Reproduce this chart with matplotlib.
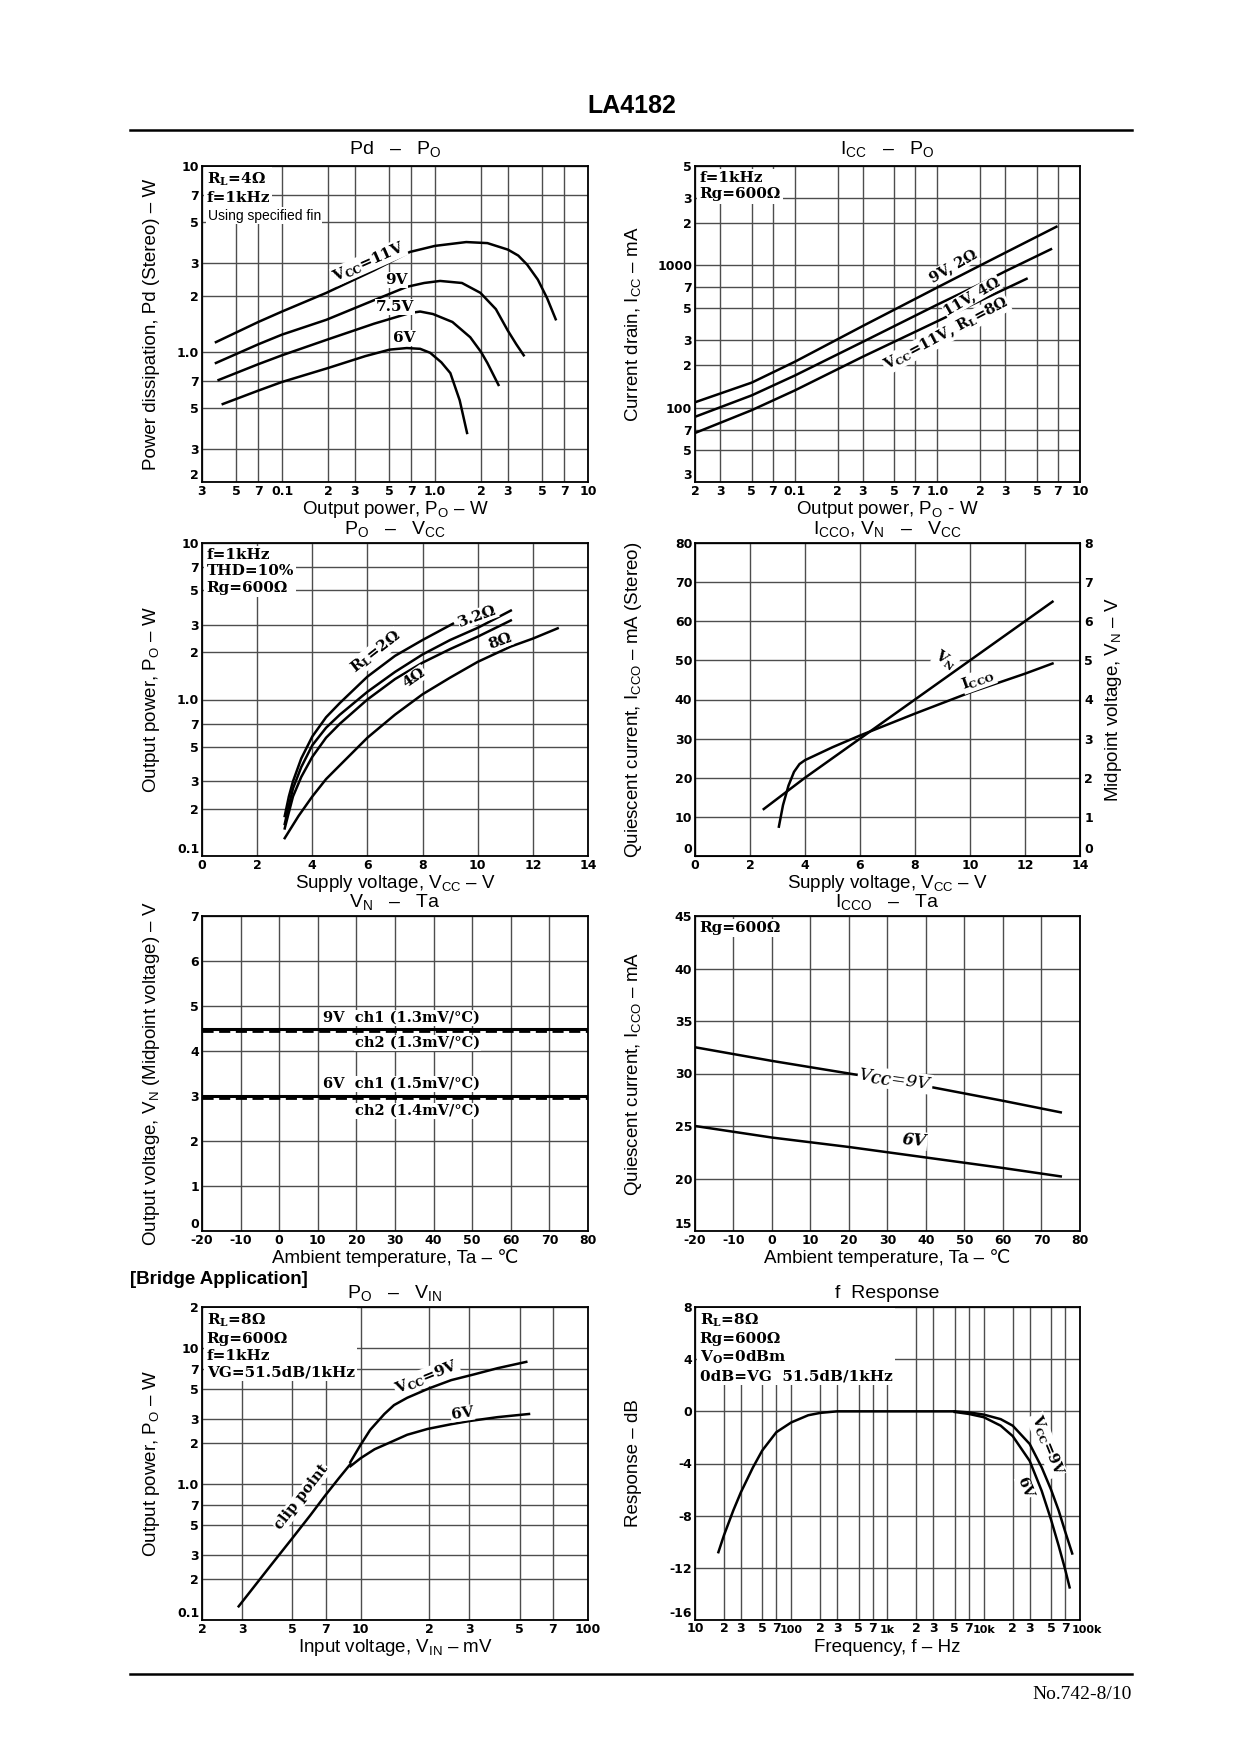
import matplotlib
matplotlib.use("Agg")
import matplotlib.pyplot as plt
from matplotlib.lines import Line2D
from matplotlib.ticker import NullLocator
from matplotlib.transforms import blended_transform_factory, ScaledTranslation

plt.rcParams['mathtext.fontset'] = 'custom'
plt.rcParams['mathtext.rm'] = 'DejaVu Serif:bold'
plt.rcParams['mathtext.bf'] = 'DejaVu Serif:bold'
plt.rcParams['mathtext.it'] = 'DejaVu Serif:italic:bold'
plt.rcParams['mathtext.sf'] = 'Liberation Sans'

# ---------------- data ----------------
# Pd - Po  (RL=4 ohm)
pd11_po = [0.037, 0.07, 0.1, 0.195, 0.4, 0.685, 1.0, 1.6, 2.2, 3.0, 3.5, 4.0, 4.7, 5.4, 6.15]
pd11_pd = [1.13, 1.45, 1.65, 2.08, 2.75, 3.45, 3.72, 3.9, 3.85, 3.55, 3.3, 2.95, 2.45, 1.95, 1.5]
pd9_po = [0.037, 0.07, 0.1, 0.195, 0.4, 0.654, 0.85, 1.08, 1.5, 1.98, 2.5, 2.98, 3.4, 3.8]
pd9_pd = [0.873, 1.1, 1.24, 1.49, 1.9, 2.24, 2.35, 2.41, 2.35, 2.08, 1.7, 1.31, 1.1, 0.96]
pd75_po = [0.0385, 0.07, 0.1, 0.2, 0.4, 0.685, 0.8, 0.97, 1.3, 1.7, 2.0, 2.2, 2.6]
pd75_pd = [0.707, 0.86, 0.96, 1.17, 1.42, 1.62, 1.65, 1.6, 1.45, 1.2, 1.0, 0.873, 0.665]
pd6_po = [0.041, 0.07, 0.1, 0.2, 0.35, 0.506, 0.654, 0.8, 0.93, 1.1, 1.26, 1.45, 1.62]
pd6_pd = [0.525, 0.62, 0.69, 0.82, 0.95, 1.03, 1.05, 1.04, 0.99, 0.88, 0.77, 0.55, 0.367]

# Icc - Po
icc_a_po = [0.0205, 0.05, 0.1, 0.3, 1.0, 2.0, 3.0, 6.83]
icc_a = [110, 150, 210, 375, 700, 1000, 1230, 1870]          # 9V, 2 ohm
icc_b_po = [0.0205, 0.05, 0.1, 0.3, 1.0, 2.0, 3.0, 6.26]
icc_b = [87, 122, 168, 290, 530, 740, 910, 1300]             # 11V, 4 ohm
icc_c_po = [0.0205, 0.05, 0.1, 0.3, 1.0, 2.0, 4.22]
icc_c = [67, 96, 132, 228, 405, 565, 805]                    # 11V, 8 ohm

# Po - Vcc
po2_vcc = [3.0, 3.15, 3.3, 3.6, 4.0, 4.5, 5.0, 6.0, 7.0, 8.0, 9.1]
po2 = [0.18, 0.24, 0.3, 0.42, 0.58, 0.77, 0.95, 1.4, 1.9, 2.4, 3.05]
po32_vcc = [3.0, 3.15, 3.3, 3.6, 4.0, 4.5, 5.0, 6.0, 7.0, 8.0, 9.0, 10.0, 11.2]
po32 = [0.16, 0.21, 0.27, 0.37, 0.51, 0.66, 0.8, 1.12, 1.5, 1.94, 2.4, 2.87, 3.7]
po4_vcc = [3.0, 3.15, 3.3, 3.6, 4.0, 4.5, 5.0, 6.0, 7.0, 8.0, 9.0, 10.0, 11.2]
po4 = [0.15, 0.19, 0.24, 0.32, 0.43, 0.57, 0.7, 1.0, 1.35, 1.72, 2.1, 2.52, 3.2]
po8_vcc = [3.0, 3.5, 4.0, 4.5, 5.0, 6.0, 7.0, 8.0, 9.0, 10.0, 11.2, 12.0, 12.9]
po8 = [0.13, 0.18, 0.24, 0.31, 0.38, 0.57, 0.8, 1.08, 1.38, 1.74, 2.18, 2.45, 2.85]

# Icco, VN - Vcc
vn_vcc = [2.5, 4, 6, 8, 10, 12, 13]
vn = [1.2, 2.0, 3.0, 4.0, 5.0, 6.0, 6.5]
icco_vcc = [3.05, 3.2, 3.4, 3.6, 3.8, 4.0, 5.0, 6.0, 8.0, 10.0, 12.0, 13.0]
icco = [7.5, 13, 18, 21.5, 23.5, 24.5, 27.8, 30.8, 36.4, 41.8, 46.6, 49.2]

# VN - Ta
ta_vn = [-20, 80]
vn9_ch1 = [4.49, 4.49]
vn9_ch2 = [4.45, 4.45]
vn6_ch1 = [2.99, 2.99]
vn6_ch2 = [2.95, 2.95]

# Icco - Ta
ta_icco = [-20, 0, 20, 40, 60, 75]
icco9 = [32.5, 31.2, 30.0, 28.8, 27.4, 26.3]
icco6 = [25.0, 23.9, 23.0, 22.0, 21.0, 20.2]

# Po - Vin (bridge)
clip_vin = [2.9, 4, 5, 6, 7, 8, 9]
clip_po = [0.126, 0.25, 0.40, 0.59, 0.83, 1.1, 1.4]
po9_vin = [9, 10, 11, 12.7, 14, 16, 20, 25, 31.6, 40, 53.5]
po9 = [1.45, 1.95, 2.5, 3.27, 3.8, 4.3, 5.05, 5.8, 6.4, 7.1, 7.9]
po6_vin = [9, 10, 11.5, 13, 16, 19.7, 25, 30, 40, 55]
po6 = [1.35, 1.55, 1.8, 1.97, 2.3, 2.54, 2.75, 2.9, 3.1, 3.27]

# f response
fr_low_f = [17.5, 20, 25, 30, 40, 50, 70, 100, 150, 200, 300, 1000, 5000]
fr_low_db = [-10.8, -9.5, -7.6, -6.2, -4.3, -3.0, -1.6, -0.85, -0.3, -0.12, 0, 0, 0]
fr9_f = [5000, 7000, 10000, 15000, 20000, 30000, 40000, 50000, 60000, 70000, 83000]
fr9_db = [0, -0.08, -0.25, -0.6, -1.1, -2.5, -4.3, -6.0, -7.6, -9.2, -10.9]
fr6_f = [5000, 7000, 10000, 15000, 20000, 30000, 40000, 50000, 60000, 70000, 78000]
fr6_db = [-0.05, -0.2, -0.45, -1.1, -1.9, -3.8, -6.1, -8.3, -10.3, -12.1, -13.5]
fticks = [10, 20, 30, 50, 70, 100, 200, 300, 500, 700, 1000, 2000, 3000, 5000, 7000,
          10000, 20000, 30000, 50000, 70000, 100000]
flabels = ['10', '2', '3', '5', '7', '100', '2', '3', '5', '7', '1k', '2', '3', '5', '7',
           '10k', '2', '3', '5', '7', '100k']

# ---------------- figure ----------------
W, H = 1240, 1754
fig = plt.figure(figsize=(W / 100, H / 100), dpi=100)

SANS = ['Liberation Sans', 'DejaVu Sans']
SERIF = 'DejaVu Serif'
LW = 1.8
TS = 9     # tick label size
AS = 13.5  # axis label size


def make_ax(l, t, r, b):
    return fig.add_axes([l / W, 1 - b / H, (r - l) / W, (b - t) / H])


def style(ax, xt, xl, yt, yl, xlim, ylim, xlog=False, ylog=False):
    if xlog:
        ax.set_xscale('log')
    if ylog:
        ax.set_yscale('log')
    ax.set_xlim(*xlim)
    ax.set_ylim(*ylim)
    ax.set_xticks(xt)
    ax.set_xticklabels(xl)
    ax.set_yticks(yt)
    ax.set_yticklabels(yl)
    ax.xaxis.set_minor_locator(NullLocator())
    ax.yaxis.set_minor_locator(NullLocator())
    ax.grid(True, color='0.3', lw=1.0)
    ax.tick_params(length=0, pad=2, labelsize=TS)
    for t in ax.get_xticklabels() + ax.get_yticklabels():
        t.set_fontweight('bold')
    # bottom y label sits just above the corner, as on the sheet
    ax.get_yticklabels()[0].set_verticalalignment('bottom')
    for sp in ax.spines.values():
        sp.set_linewidth(1.3)


def note(ax, s, x=0.012, y=0.985):
    ax.text(x, y, s, transform=ax.transAxes, va='top', ha='left',
            fontfamily=SERIF, fontweight='bold', fontsize=11, linespacing=1.25,
            bbox=dict(fc='white', ec='none', pad=1.5), zorder=5)


def lab(ax, x, y, s, rot=0, size=11, style='normal', bg=True):
    kw = dict(fc='white', ec='none', pad=0.5) if bg else None
    ax.text(x, y, s, rotation=rot, ha='center', va='center', fontfamily=SERIF,
            fontweight='bold', fontstyle=style, fontsize=size, bbox=kw, zorder=5,
            rotation_mode='anchor')


def titles(l, r, t, b, title, xlabel, ylabel, ylx, tgap=14):
    cx = (l + r) / 2 / W
    fig.text(cx, 1 - (t - tgap) / H, title, ha='center', va='center', fontsize=14,
             family=SANS)
    fig.text(cx, 1 - (b + 27) / H, xlabel, ha='center', va='center', fontsize=AS,
             family=SANS)
    fig.text(ylx / W, 1 - (t + b) / 2 / H, ylabel, ha='center', va='center',
             fontsize=AS, family=SANS, rotation=90)


LC = (202, 588)
RC = (695, 1080)
R1 = (166, 482)
R2 = (543, 856)
R3 = (916, 1231)
R4 = (1307, 1620)

# page header / footer
fig.text(632 / W, 1 - 106 / H, 'LA4182', ha='center', va='center', fontsize=18,
         fontweight='bold', family=SANS)
fig.add_artist(Line2D([130 / W, 1132 / W], [1 - 130 / H] * 2, color='black', lw=1.8))
fig.add_artist(Line2D([130 / W, 1132 / W], [1 - 1674 / H] * 2, color='black', lw=1.8))
fig.text(1132 / W, 1 - 1686 / H, 'No.742-8/10', ha='right', va='top', fontsize=14,
         family='Liberation Serif')

# ---- Pd - Po ----
ax = make_ax(LC[0], R1[0], LC[1], R1[1])
style(ax, [0.03, 0.05, 0.07, 0.1, 0.2, 0.3, 0.5, 0.7, 1, 2, 3, 5, 7, 10],
      ['3', '5', '7', '0.1', '2', '3', '5', '7', '1.0', '2', '3', '5', '7', '10'],
      [0.2, 0.3, 0.5, 0.7, 1, 2, 3, 5, 7, 10],
      ['2', '3', '5', '7', '1.0', '2', '3', '5', '7', '10'],
      (0.03, 10), (0.2, 10), xlog=True, ylog=True)
ax.plot(pd11_po, pd11_pd, color='black', lw=LW)
ax.plot(pd9_po, pd9_pd, color='black', lw=LW)
ax.plot(pd75_po, pd75_pd, color='black', lw=LW)
ax.plot(pd6_po, pd6_pd, color='black', lw=LW)
note(ax, 'R$_\\mathrm{L}$=4Ω\nf=1kHz')
ax.text(0.015, 0.865, 'Using specified fin', transform=ax.transAxes, va='top', ha='left',
        fontfamily=SANS, fontsize=10, bbox=dict(fc='white', ec='none', pad=1), zorder=5)
lab(ax, 0.37, 3.05, 'V$_\\mathrm{CC}$=11V', rot=24)
lab(ax, 0.56, 2.44, '9V', rot=0)
lab(ax, 0.545, 1.75, '7.5V', rot=0)
lab(ax, 0.63, 1.19, '6V', rot=0)
titles(LC[0], LC[1], R1[0], R1[1], 'Pd   –   P$_\\mathsf{O}$',
       'Output power, P$_\\mathsf{O}$ – W', 'Power dissipation, Pd (Stereo) – W', 152,
       tgap=17)

# ---- Icc - Po ----
ax = make_ax(RC[0], R1[0], RC[1], R1[1])
style(ax, [0.02, 0.03, 0.05, 0.07, 0.1, 0.2, 0.3, 0.5, 0.7, 1, 2, 3, 5, 7, 10],
      ['2', '3', '5', '7', '0.1', '2', '3', '5', '7', '1.0', '2', '3', '5', '7', '10'],
      [30, 50, 70, 100, 200, 300, 500, 700, 1000, 2000, 3000, 5000],
      ['3', '5', '7', '100', '2', '3', '5', '7', '1000', '2', '3', '5'],
      (0.02, 10), (30, 5000), xlog=True, ylog=True)
ax.plot(icc_a_po, icc_a, color='black', lw=LW)
ax.plot(icc_b_po, icc_b, color='black', lw=LW)
ax.plot(icc_c_po, icc_c, color='black', lw=LW)
note(ax, 'f=1kHz\nRg=600Ω')
lab(ax, 1.3, 990, '9V, 2Ω', rot=30, size=10.5)
lab(ax, 1.75, 605, '11V, 4Ω', rot=30, size=10.5)
lab(ax, 1.15, 330, 'V$_\\mathrm{CC}$=11V, R$_\\mathrm{L}$=8Ω', rot=28, size=10.5)
titles(RC[0], RC[1], R1[0], R1[1], 'I$_\\mathsf{CC}$   –   P$_\\mathsf{O}$',
       'Output power, P$_\\mathsf{O}$ - W', 'Current drain, I$_\\mathsf{CC}$ – mA', 633,
       tgap=17)

# ---- Po - Vcc ----
ax = make_ax(LC[0], R2[0], LC[1], R2[1])
style(ax, [0, 2, 4, 6, 8, 10, 12, 14], ['0', '2', '4', '6', '8', '10', '12', '14'],
      [0.1, 0.2, 0.3, 0.5, 0.7, 1, 2, 3, 5, 7, 10],
      ['0.1', '2', '3', '5', '7', '1.0', '2', '3', '5', '7', '10'],
      (0, 14), (0.1, 10), ylog=True)
ax.plot(po2_vcc, po2, color='black', lw=LW)
ax.plot(po32_vcc, po32, color='black', lw=LW)
ax.plot(po4_vcc, po4, color='black', lw=LW)
ax.plot(po8_vcc, po8, color='black', lw=LW)
note(ax, 'f=1kHz\nTHD=10%\nRg=600Ω')
lab(ax, 6.3, 2.0, 'R$_\\mathrm{L}$=2Ω', rot=38)
lab(ax, 10.0, 3.4, '3.2Ω', rot=20)
lab(ax, 7.7, 1.38, '4Ω', rot=35)
lab(ax, 10.8, 2.36, '8Ω', rot=20)
titles(LC[0], LC[1], R2[0], R2[1], 'P$_\\mathsf{O}$   –   V$_\\mathsf{CC}$',
       'Supply voltage, V$_\\mathsf{CC}$ – V', 'Output power, P$_\\mathsf{O}$ – W', 152)

# ---- Icco, VN - Vcc ----
ax = make_ax(RC[0], R2[0], RC[1], R2[1])
style(ax, [0, 2, 4, 6, 8, 10, 12, 14], ['0', '2', '4', '6', '8', '10', '12', '14'],
      list(range(0, 81, 10)), [str(v) for v in range(0, 81, 10)], (0, 14), (0, 80))
ax.plot(icco_vcc, icco, color='black', lw=LW)
ax2 = ax.twinx()
ax2.set_ylim(0, 8)
ax2.set_yticks(range(0, 9))
ax2.set_yticklabels([str(v) for v in range(0, 9)])
ax2.tick_params(length=0, pad=3, labelsize=TS)
for t in ax2.get_yticklabels():
    t.set_fontweight('bold')
ax2.get_yticklabels()[0].set_verticalalignment('bottom')
ax2.plot(vn_vcc, vn, color='black', lw=LW)
lab(ax, 9.1, 50.0, 'V$_\\mathrm{N}$', rot=-35, size=10.5)
lab(ax, 10.3, 45.0, 'I$_\\mathrm{CCO}$', rot=20, size=10.5)
titles(RC[0], RC[1], R2[0], R2[1],
       'I$_\\mathsf{CCO}$, V$_\\mathsf{N}$   –   V$_\\mathsf{CC}$',
       'Supply voltage, V$_\\mathsf{CC}$ – V',
       'Quiescent current, I$_\\mathsf{CCO}$ – mA (Stereo)', 633)
fig.text(1113 / W, 1 - (R2[0] + R2[1]) / 2 / H, 'Midpoint voltage, V$_\\mathsf{N}$ – V',
         ha='center', va='center', fontsize=AS, family=SANS, rotation=90)

# ---- VN - Ta ----
ax = make_ax(LC[0], R3[0], LC[1], R3[1])
style(ax, list(range(-20, 81, 10)), [str(v) for v in range(-20, 81, 10)],
      list(range(0, 8)), [str(v) for v in range(0, 8)], (-20, 80), (0, 7))
ax.plot(ta_vn, vn9_ch1, color='black', lw=2.2)
ax.plot(ta_vn, vn9_ch2, color='black', lw=2.0, ls=(0, (4, 2)))
ax.plot(ta_vn, vn6_ch1, color='black', lw=2.2)
ax.plot(ta_vn, vn6_ch2, color='black', lw=2.0, ls=(0, (4, 2)))
for x, y, s in [(52, 4.74, '9V  ch1 (1.3mV/°C)'), (52, 4.18, 'ch2 (1.3mV/°C)'),
                (52, 3.27, '6V  ch1 (1.5mV/°C)'), (52, 2.67, 'ch2 (1.4mV/°C)')]:
    ax.text(x, y, s, ha='right', va='center', fontfamily=SERIF, fontweight='bold',
            fontsize=10.5, bbox=dict(fc='white', ec='none', pad=0.8), zorder=5)
titles(LC[0], LC[1], R3[0], R3[1], 'V$_\\mathsf{N}$   –   Ta',
       'Ambient temperature, Ta – ℃', 'Output voltage, V$_\\mathsf{N}$ (Midpoint voltage) – V',
       152)

# ---- Icco - Ta ----
ax = make_ax(RC[0], R3[0], RC[1], R3[1])
style(ax, list(range(-20, 81, 10)), [str(v) for v in range(-20, 81, 10)],
      list(range(15, 46, 5)), [str(v) for v in range(15, 46, 5)], (-20, 80), (15, 45))
ax.plot(ta_icco, icco9, color='black', lw=LW)
ax.plot(ta_icco, icco6, color='black', lw=LW)
note(ax, 'Rg=600Ω')
ax.text(32, 29.4, 'V$_{CC}$=9V', rotation=-8, ha='center', va='center', fontfamily=SERIF,
        fontstyle='italic', fontsize=12.5,
        bbox=dict(fc='white', ec='none', pad=0.5), zorder=5)
ax.text(37, 23.6, '6V', rotation=-5, ha='center', va='center', fontfamily=SERIF,
        fontstyle='italic', fontweight='bold', fontsize=12,
        bbox=dict(fc='white', ec='none', pad=0.5), zorder=5)
titles(RC[0], RC[1], R3[0], R3[1], 'I$_\\mathsf{CCO}$   –   Ta',
       'Ambient temperature, Ta – ℃', 'Quiescent current, I$_\\mathsf{CCO}$ – mA', 633)

# ---- Bridge: Po - Vin ----
fig.text(130 / W, 1 - 1280 / H, '[Bridge Application]', ha='left', va='center',
         fontsize=13.5, fontweight='bold', family=SANS)
ax = make_ax(LC[0], R4[0], LC[1], R4[1])
style(ax, [2, 3, 5, 7, 10, 20, 30, 50, 70, 100],
      ['2', '3', '5', '7', '10', '2', '3', '5', '7', '100'],
      [0.1, 0.2, 0.3, 0.5, 0.7, 1, 2, 3, 5, 7, 10, 20],
      ['0.1', '2', '3', '5', '7', '1.0', '2', '3', '5', '7', '10', '2'],
      (2, 100), (0.1, 20), xlog=True, ylog=True)
ax.plot(clip_vin, clip_po, color='black', lw=LW)
ax.plot(po9_vin, po9, color='black', lw=LW)
ax.plot(po6_vin, po6, color='black', lw=LW)
note(ax, 'R$_\\mathrm{L}$=8Ω\nRg=600Ω\nf=1kHz\nVG=51.5dB/1kHz')
lab(ax, 5.5, 0.8, 'clip point', rot=52, size=10.5)
lab(ax, 19.5, 6.1, 'V$_\\mathrm{CC}$=9V', rot=22)
lab(ax, 28, 3.3, '6V', rot=8)
titles(LC[0], LC[1], R4[0], R4[1], 'P$_\\mathsf{O}$   –   V$_\\mathsf{IN}$',
       'Input voltage, V$_\\mathsf{IN}$ – mV', 'Output power, P$_\\mathsf{O}$ – W', 152)

# ---- f Response ----
ax = make_ax(RC[0], R4[0], RC[1], R4[1])
style(ax, fticks, [''] * len(fticks), [-16, -12, -8, -4, 0, 4, 8],
      ['-16', '-12', '-8', '-4', '0', '4', '8'], (10, 100000), (-16, 8), xlog=True)
tr = blended_transform_factory(ax.transData, ax.transAxes)
for f, s in zip(fticks, flabels):
    lower = s in ('100', '1k', '10k', '100k')
    dx = 5 / 72 if s == '100k' else 0
    off = ScaledTranslation(dx, -3.5 / 72 if lower else -1.5 / 72, fig.dpi_scale_trans)
    ax.text(f, 0, s, transform=tr + off, ha='center', va='top', fontsize=8 if lower else TS,
            fontweight='bold', family='DejaVu Sans')
ax.plot(fr_low_f, fr_low_db, color='black', lw=LW)
ax.plot(fr9_f, fr9_db, color='black', lw=LW)
ax.plot(fr6_f, fr6_db, color='black', lw=LW)
note(ax, 'R$_\\mathrm{L}$=8Ω\nRg=600Ω\nV$_\\mathrm{O}$=0dBm\n0dB=VG  51.5dB/1kHz')
lab(ax, 45000, -2.6, 'V$_\\mathrm{CC}$=9V', rot=-68, size=10.5)
lab(ax, 27000, -5.8, '6V', rot=-68, size=10.5)
titles(RC[0], RC[1], R4[0], R4[1], 'f  Response', 'Frequency, f – Hz',
       'Response – dB', 633)

fig.savefig('out.png', dpi=100)
